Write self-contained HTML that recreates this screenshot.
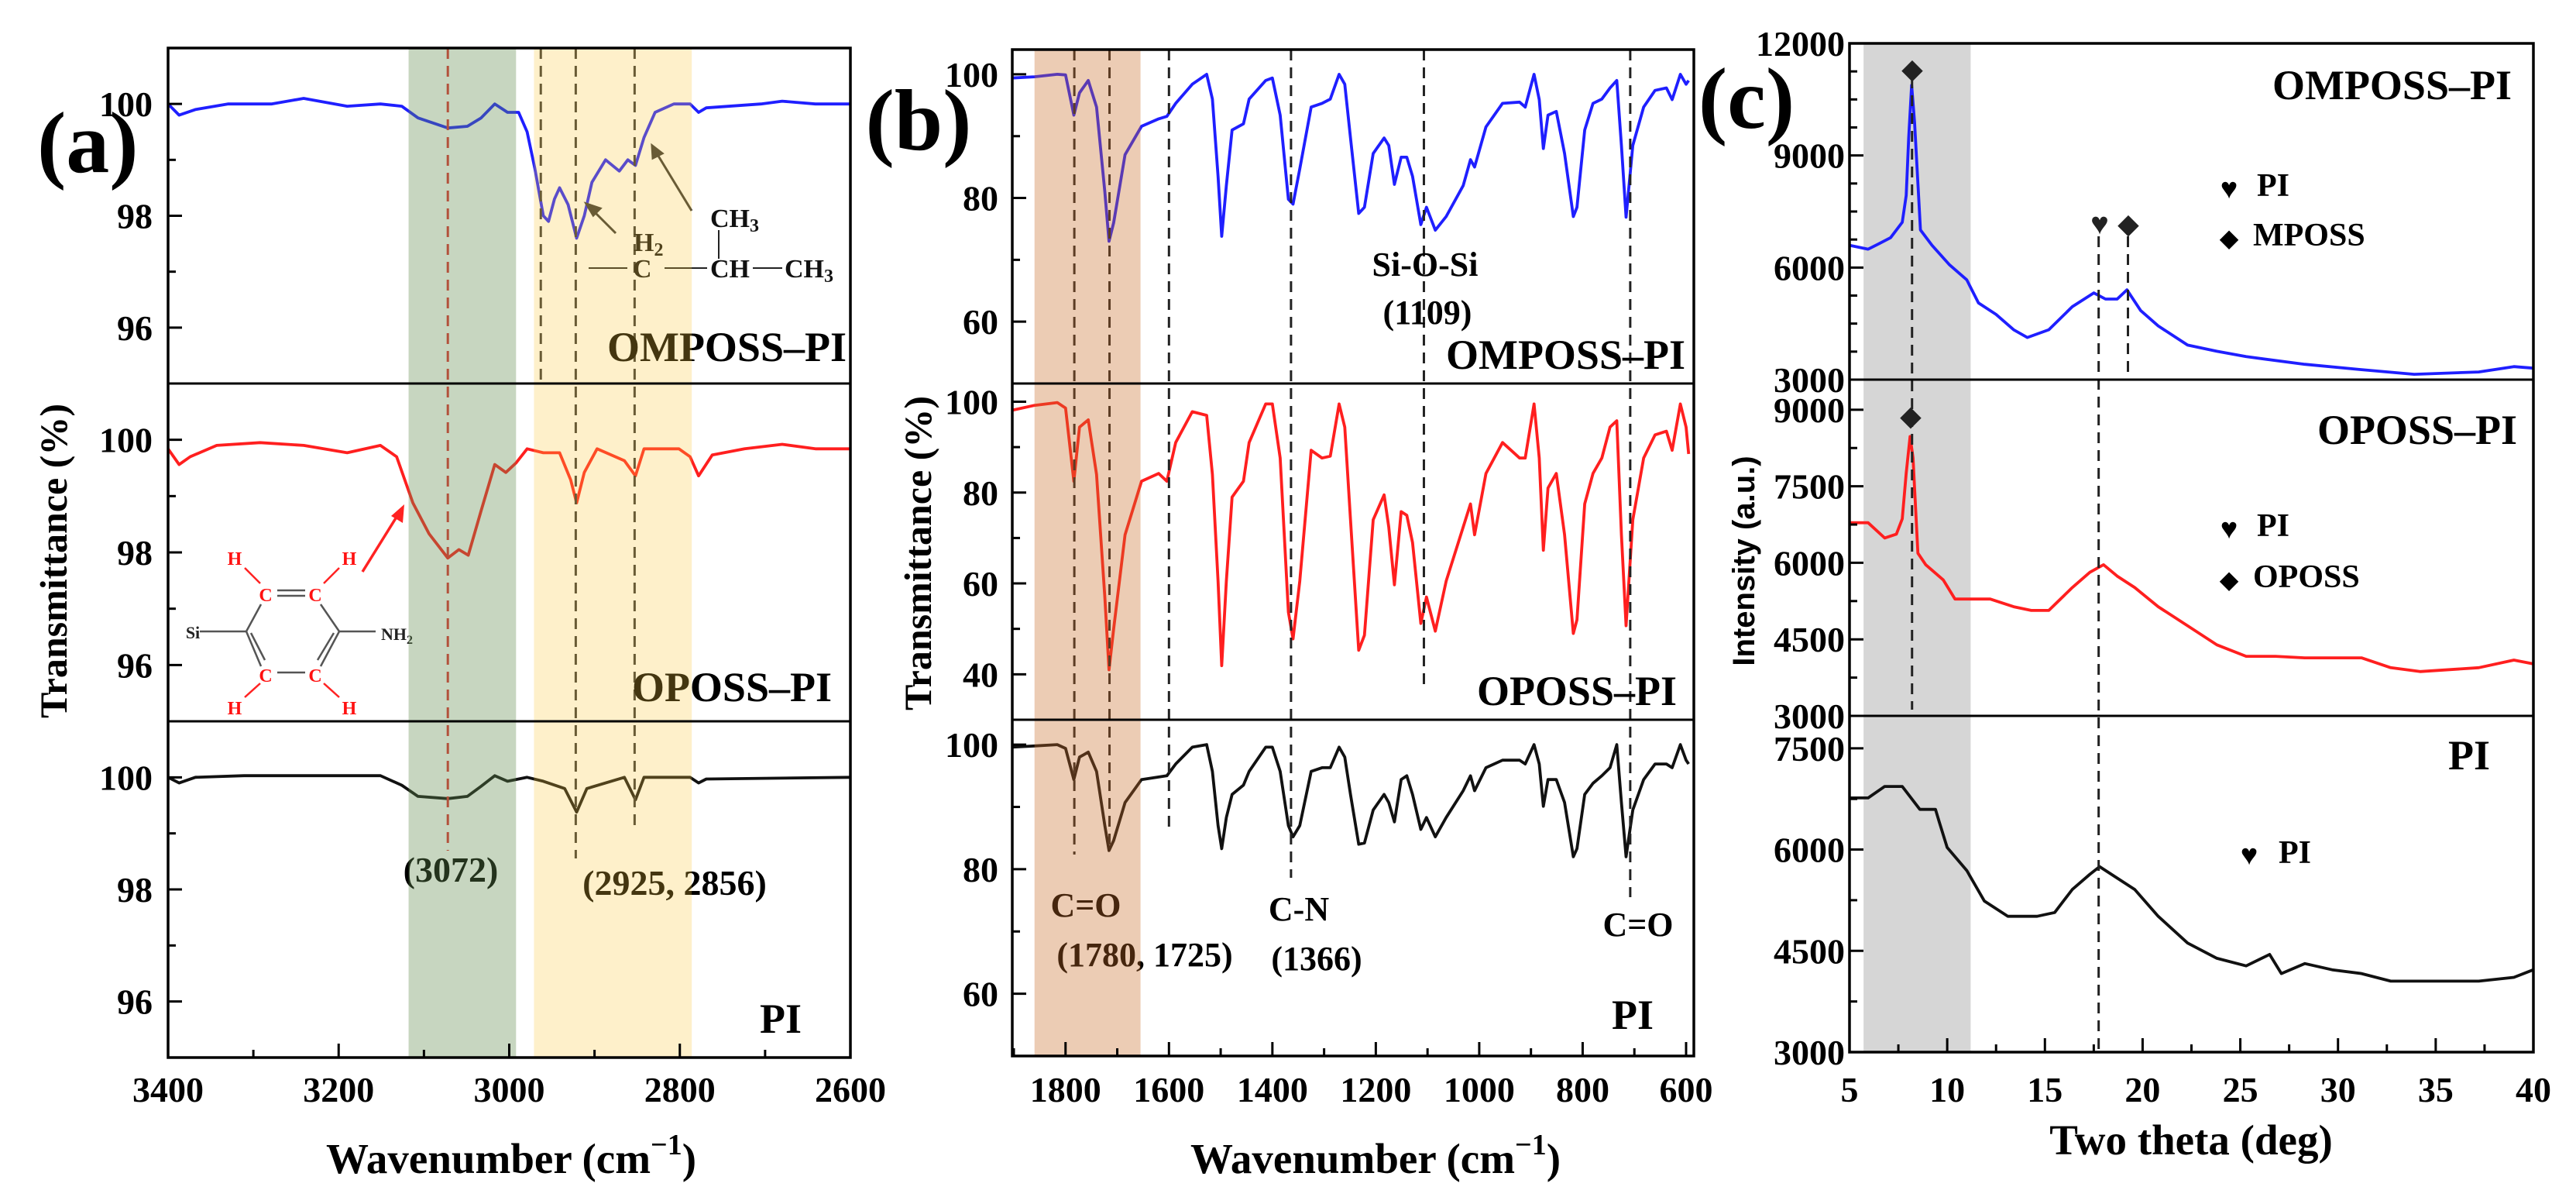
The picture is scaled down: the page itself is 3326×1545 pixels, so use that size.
<!DOCTYPE html>
<html><head><meta charset="utf-8"><style>
html,body{margin:0;padding:0;background:#fff;}
svg{display:block;}
text{font-family:"Liberation Serif","DejaVu Serif",serif;font-weight:bold;}
</style></head><body>
<svg id="fig" width="3326" height="1545" viewBox="0 0 3326 1545" xmlns="http://www.w3.org/2000/svg">
<g id="under"></g>
<g id="marks"></g>
<g id="annot">
 <text x="48" y="222" font-size="112">(a)</text>
 <text x="1093" y="466" font-size="54" text-anchor="end">OMPOSS–PI</text>
 <text x="1074" y="905" font-size="54" text-anchor="end">OPOSS–PI</text>
 <text x="1035" y="1333" font-size="54" text-anchor="end">PI</text>
 <text x="582" y="1138" font-size="46" text-anchor="middle">(3072)</text>
 <text x="871" y="1155" font-size="46" text-anchor="middle">(2925, 2856)</text>
 <g font-size="34" fill="#111">
  <text x="818" y="324">H<tspan font-size="24" dy="6">2</tspan></text>
  <text x="817" y="358">C</text>
  <text x="917" y="293">CH<tspan font-size="24" dy="6">3</tspan></text>
  <text x="917" y="358">CH</text>
  <text x="1013" y="358">CH<tspan font-size="24" dy="6">3</tspan></text>
  <line x1="760" y1="346" x2="810" y2="346" stroke="#222" stroke-width="2"/>
  <line x1="858" y1="346" x2="913" y2="346" stroke="#222" stroke-width="2"/>
  <line x1="972" y1="346" x2="1010" y2="346" stroke="#222" stroke-width="2"/>
  <line x1="928" y1="297" x2="928" y2="334" stroke="#222" stroke-width="2"/>
 </g>
 <g stroke="#333" stroke-width="3" fill="#333">
  <line x1="795" y1="301" x2="766" y2="272"/><polygon points="757,263 775,269 766,278"/>
  <line x1="893" y1="272" x2="848" y2="198"/><polygon points="842,188 855,198 843,204"/>
 </g>
 <g>
  <g stroke="#555" stroke-width="2.5" fill="none">
   <line x1="258" y1="815" x2="318" y2="815"/><line x1="438" y1="815" x2="485" y2="815"/>
   <line x1="318" y1="815" x2="337" y2="780"/><line x1="318" y1="815" x2="337" y2="860"/><line x1="324" y1="817" x2="342" y2="852"/>
   <line x1="438" y1="815" x2="414" y2="780"/><line x1="438" y1="815" x2="414" y2="860"/><line x1="431" y1="817" x2="410" y2="852"/>
   <line x1="358" y1="762" x2="394" y2="762"/><line x1="358" y1="769" x2="394" y2="769"/>
   <line x1="358" y1="868" x2="394" y2="868"/>
  </g>
  <g stroke="#f22" stroke-width="2.5">
   <line x1="316" y1="733" x2="336" y2="753"/><line x1="438" y1="733" x2="418" y2="753"/>
   <line x1="316" y1="900" x2="336" y2="882"/><line x1="438" y1="900" x2="418" y2="882"/>
  </g>
  <g fill="#f11" font-size="24" text-anchor="middle">
   <text x="303" y="729">H</text><text x="451" y="729">H</text>
   <text x="343" y="776">C</text><text x="407" y="776">C</text>
   <text x="343" y="880">C</text><text x="407" y="880">C</text>
   <text x="303" y="922">H</text><text x="451" y="922">H</text>
  </g>
  <text x="249" y="824" font-size="22" fill="#222" text-anchor="middle">Si</text>
  <text x="492" y="826" font-size="22" fill="#222">NH<tspan font-size="16" dy="5">2</tspan></text>
 </g>
 <g>
  <line x1="468" y1="738" x2="514" y2="664" stroke="#f22" stroke-width="3.5"/>
  <polygon points="522,651 520,675 505,666" fill="#f22"/>
 </g>
 <text x="1186" y="193" font-size="112" text-anchor="middle">(b)</text>
 <text x="2176" y="476" font-size="54" text-anchor="end">OMPOSS–PI</text>
 <text x="2165" y="910" font-size="54" text-anchor="end">OPOSS–PI</text>
 <text x="2135" y="1328" font-size="54" text-anchor="end">PI</text>
 <text x="1840" y="356" font-size="44" text-anchor="middle">Si-O-Si</text>
 <text x="1843" y="418" font-size="44" text-anchor="middle">(1109)</text>
 <text x="1402" y="1183" font-size="44" text-anchor="middle">C=O</text>
 <text x="1478" y="1247" font-size="44" text-anchor="middle">(1780, 1725)</text>
 <text x="1677" y="1188" font-size="44" text-anchor="middle">C-N</text>
 <text x="1700" y="1252" font-size="44" text-anchor="middle">(1366)</text>
 <text x="2115" y="1208" font-size="44" text-anchor="middle">C=O</text>
 <text x="2255" y="165" font-size="112" text-anchor="middle">(c)</text>
 <text x="3243" y="128" font-size="54" text-anchor="end">OMPOSS–PI</text>
 <text x="3250" y="573" font-size="54" text-anchor="end">OPOSS–PI</text>
 <text x="3215" y="993" font-size="54" text-anchor="end">PI</text>
 <g font-size="42">
  <text x="2878" y="256" font-family="DejaVu Sans" font-size="38" text-anchor="middle">♥</text><text x="2914" y="253">PI</text>
  <text x="2878" y="318" font-family="DejaVu Sans" font-size="32" text-anchor="middle">◆</text><text x="2909" y="317">MPOSS</text>
 </g>
 <g font-size="42">
  <text x="2878" y="695" font-family="DejaVu Sans" font-size="38" text-anchor="middle">♥</text><text x="2914" y="692">PI</text>
  <text x="2878" y="759" font-family="DejaVu Sans" font-size="32" text-anchor="middle">◆</text><text x="2909" y="758">OPOSS</text>
 </g>
 <g font-size="42">
  <text x="2904" y="1116" font-family="DejaVu Sans" font-size="38" text-anchor="middle">♥</text><text x="2942" y="1114">PI</text>
 </g>
 <g font-family="DejaVu Sans" text-anchor="middle" fill="#222">
  <text x="2469" y="101" font-size="36">◆</text>
  <text x="2711" y="302" font-size="40">♥</text>
  <text x="2748" y="301" font-size="36">◆</text>
  <text x="2467" y="549" font-size="36">◆</text>
 </g>
 <text font-size="50" text-anchor="middle" transform="translate(86,724) rotate(-90)">Transmittance (%)</text>
 <text x="660" y="1514" font-size="55" text-anchor="middle">Wavenumber (cm<tspan font-size="38" dy="-24">−1</tspan><tspan dy="24">)</tspan></text>
 <text font-size="50" text-anchor="middle" transform="translate(1202,714) rotate(-90)">Transmittance (%)</text>
 <text x="1776" y="1514" font-size="55" text-anchor="middle">Wavenumber (cm<tspan font-size="38" dy="-24">−1</tspan><tspan dy="24">)</tspan></text>
 <text font-size="40" text-anchor="middle" style="font-family:'Liberation Sans',sans-serif" transform="translate(2265,724) rotate(-90)">Intensity (a.u.)</text>
 <text x="2829" y="1490" font-size="55" text-anchor="middle">Two theta (deg)</text>
</g>
<g id="over"></g>
<g id="axes"></g>
</svg>
<script>
const A_X_OMPOSS=[3400,3387,3368,3330,3279,3241,3190,3151,3126,3107,3072,3049,3033,3017,3002,2989,2979,2970,2960,2954,2947,2941,2931,2921,2912,2903,2887,2871,2861,2852,2842,2829,2807,2788,2778,2769,2705,2680,2641,2600];
const A_OMPOSS=[100,99.8,99.9,100,100,100.1,99.96,100,99.96,99.75,99.57,99.6,99.75,100,99.85,99.85,99.5,98.85,98.0,97.9,98.3,98.5,98.2,97.6,98.0,98.6,99.0,98.8,99.0,98.9,99.4,99.85,100,100,99.85,99.93,100,100.05,100,100];
const A_X_OPOSS=[3400,3387,3374,3343,3292,3241,3190,3151,3132,3113,3094,3072,3059,3048,3033,3017,3004,2992,2979,2960,2941,2928,2921,2912,2897,2865,2852,2842,2801,2788,2778,2762,2724,2680,2641,2600];
const A_OPOSS=[99.84,99.56,99.7,99.9,99.95,99.9,99.77,99.9,99.7,98.88,98.33,97.9,98.05,97.95,98.74,99.56,99.42,99.59,99.84,99.77,99.77,99.29,98.88,99.42,99.84,99.63,99.36,99.84,99.84,99.7,99.36,99.73,99.84,99.92,99.84,99.84];
const A_X_PI=[3400,3387,3368,3311,3241,3151,3126,3107,3072,3049,3033,3017,3002,2979,2960,2935,2921,2909,2865,2852,2842,2788,2778,2769,2600];
const A_PI=[100,99.9,100,100.03,100.03,100.03,99.86,99.66,99.62,99.66,99.84,100.03,99.93,100,99.93,99.8,99.38,99.8,100,99.6,100,100,99.9,99.97,100];
const A_XTICKS=[3400,3200,3000,2800,2600];
const A_YTICKS=[96,98,100];
const B_X=[1904,1860,1816,1800,1784,1773,1756,1740,1724,1716,1707,1685,1653,1620,1604,1587,1555,1527,1516,1505,1498,1489,1478,1456,1445,1413,1400,1385,1369,1360,1347,1325,1304,1288,1271,1260,1249,1233,1222,1205,1184,1175,1164,1151,1140,1129,1113,1102,1085,1064,1031,1017,1009,987,955,922,911,894,884,876,867,851,835,818,811,796,780,763,747,734,725,716,703,682,660,638,627,611,600,595];
const B_OMPOSS=[99.4,99.6,100,99.9,93.4,97,99,94.7,81,73,76,87,91.6,92.8,93.2,95.3,98.4,100,96,83.5,73.8,82,91,92,96,99,99.4,93.4,79.8,79,84.7,94.7,95.3,96,100,98.4,89.7,77.5,78.5,87.2,89.7,88.5,82.2,86.6,86.6,83.5,75.7,78.5,74.8,77,82,86.2,85,91.5,95.3,95.5,94.7,100,95.9,88,93.4,94,87.2,77,78.5,91,95.3,96,97.8,99,88.5,76.9,88.5,94.7,97.4,97.8,95.9,100,98.4,99];
const B_OPOSS=[98.1,99.2,99.8,98.6,82.5,94.4,96,84,57,41,50,70.7,82.5,84.2,82.5,91,97.8,97,84,60.5,41.9,60.5,79,82.5,91,99.5,99.5,87.6,53.7,47.8,60.5,89.3,87.6,88,99.5,94.4,74,45.3,48.6,74,79.5,72.4,59.7,75.8,75,69,51.2,57,49.5,60.5,72.4,77.5,70.7,84.2,91,87.6,87.6,99.5,87.6,67.3,81,84.2,70.7,49,52,77.5,84.2,87.6,94.4,95.8,70.7,50.7,74,87.6,92.7,93.5,89.3,99.5,94.4,88.5];
const B_PI=[99.6,99.8,100,99.4,94.4,98,98.8,95.7,87,83,84.6,90.7,94.4,94.8,95,96.9,99.6,100,95.7,87,83.3,88.3,92,93.5,95.7,99.6,99.6,95.7,87,85.2,87,95.7,96.3,96.3,99.6,98,92,84,84.2,89.5,92,90.7,87.6,94.4,95,92,86.4,88.3,85.2,88.3,92.6,95,92.6,96.3,97.5,97.5,96.9,100,96.9,90.1,94.4,94.4,90.7,82,83.3,92,93.8,95,96.3,100,90.7,82,89.5,94.4,96.9,96.9,96.3,100,97.5,96.9];
const B_XTICKS=[1800,1600,1400,1200,1000,800,600];
const B_YTICKS_TOP=[60,80,100];
const B_YTICKS_MID=[40,60,80,100];
const B_YTICKS_BOT=[60,80,100];
const C_X_OMPOSS=[5,5.95,6.5,7.1,7.7,7.9,8.03,8.18,8.33,8.63,9.22,10.1,11.0,11.6,12.5,13.4,14.1,15.2,16.4,17.5,18.1,18.7,19.2,19.9,20.8,22.3,23.8,25.3,28.3,31.2,33.9,37.2,39.0,40];
const C_OMPOSS=[6596,6493,6636,6800,7212,7931,9472,10880,9883,7006,6596,6081,5671,5054,4746,4335,4129,4335,4951,5321,5157,5157,5404,4849,4438,3924,3760,3616,3411,3267,3143,3205,3348,3307];
const C_X_OPOSS=[5,5.95,6.8,7.4,7.7,7.9,8.1,8.25,8.5,8.9,9.8,10.4,11.3,12.2,13.4,14.3,15.2,16.4,17.3,18.0,18.7,19.6,20.8,22.3,23.8,25.3,26.8,28.3,31.2,32.7,34.2,37.2,39.0,40];
const C_OPOSS=[6786,6786,6487,6562,6861,7758,8476,8057,6188,5963,5664,5290,5290,5290,5140,5066,5066,5514,5813,5963,5739,5514,5140,4766,4392,4168,4168,4138,4138,3944,3869,3944,4093,4019];
const C_X_PI=[5,5.95,6.8,7.7,8.6,9.4,9.6,10.0,11.0,11.9,13.1,14.6,15.5,16.4,17.3,17.8,18.7,19.6,20.8,22.3,23.8,25.3,26.5,27.1,28.3,29.7,31.2,32.7,34.2,37.2,39.0,40];
const C_PI=[6765,6765,6935,6935,6595,6595,6400,6030,5690,5238,5012,5012,5068,5408,5634,5747,5577,5408,5012,4616,4390,4277,4447,4164,4311,4220,4164,4051,4051,4051,4107,4220];
const C_XTICKS=[5,10,15,20,25,30,35,40];
const C_YTICKS_TOP=[3000,6000,9000,12000];
const C_YTICKS_MID=[3000,4500,6000,7500,9000];
const C_YTICKS_BOT=[3000,4500,6000,7500];

const NS='http://www.w3.org/2000/svg';
const G_UNDER=document.getElementById('under'),G_MARKS=document.getElementById('marks'),G_OVER=document.getElementById('over'),G_AXES=document.getElementById('axes');
function mk(tag,attrs,parent,name){const el=document.createElementNS(NS,tag);for(const k in attrs)el.setAttribute(k,attrs[k]);


parent.appendChild(el);return el;}
function scaleX(p,v){return p.L+(v-p.x0)/(p.x1-p.x0)*(p.R-p.L);}
function scaleY(s,v){return s.B-(v-s.y0)/(s.y1-s.y0)*(s.B-s.T);}

const PA={L:217,R:1098,x0:3400,x1:2600,subs:[{T:62,B:495,y0:95,y1:101},{T:495,B:931,y0:95,y1:101},{T:931,B:1365,y0:95,y1:101}]};
const PB={L:1307,R:2187,x0:1903,x1:585,subs:[{T:64,B:495,y0:50,y1:104},{T:495,B:929,y0:30,y1:104},{T:929,B:1363,y0:50,y1:104}]};
const PC={L:2388,R:3271,x0:5,x1:40,subs:[{T:56,B:490,y0:3000,y1:12000},{T:490,B:924,y0:3000,y1:9590},{T:924,B:1358,y0:3000,y1:7980}]};

function band(p,a,b,fill,op,parent,name){const x1=scaleX(p,a),x2=scaleX(p,b);
mk('rect',{x:Math.min(x1,x2),y:p.subs[0].T,width:Math.abs(x2-x1),height:p.subs[2].B-p.subs[0].T,fill:fill,'fill-opacity':op},parent,name);}
function curve(p,s,xs,ys,color,name){let d='';for(let i=0;i<xs.length;i++){d+=(i?'L':'M')+scaleX(p,xs[i]).toFixed(1)+' '+scaleY(s,ys[i]).toFixed(1);}
mk('path',{d:d,fill:'none',stroke:color,'stroke-width':3.8,'stroke-linejoin':'round'},G_MARKS,name);}
function dashed(p,v,y1,y2,color,name){const x=scaleX(p,v);mk('line',{x1:x,y1:y1,x2:x,y2:y2,stroke:color,'stroke-width':3,'stroke-dasharray':'14 9'},G_MARKS,name);}
function axes(p,xticks,xminorStep,ysets,yminorStep,labelGap,prefix){
 const s0=p.subs[0],s2=p.subs[2];
 mk('rect',{x:p.L,y:s0.T,width:p.R-p.L,height:s2.B-s0.T,fill:'none',stroke:'#000','stroke-width':3.5},G_AXES,prefix+'-frame');
 mk('line',{x1:p.L,y1:p.subs[1].T,x2:p.R,y2:p.subs[1].T,stroke:'#000','stroke-width':3},G_AXES,prefix+'-divider-1');
 mk('line',{x1:p.L,y1:p.subs[2].T,x2:p.R,y2:p.subs[2].T,stroke:'#000','stroke-width':3},G_AXES,prefix+'-divider-2');
 const lo=Math.min(p.x0,p.x1),hi=Math.max(p.x0,p.x1);
 for(let v=Math.ceil(lo/xminorStep)*xminorStep;v<=hi;v+=xminorStep){const x=scaleX(p,v);const major=xticks.indexOf(v)>=0;
  mk('line',{x1:x,y1:s2.B,x2:x,y2:s2.B-(major?18:10),stroke:'#000','stroke-width':3},G_AXES,prefix+'-x-tick');}
 xticks.forEach(v=>{const t=mk('text',{x:scaleX(p,v),y:1422,'font-size':46,'text-anchor':'middle'},G_AXES,prefix+'-x-tick-label');t.textContent=String(v);});
 ysets.forEach((ticks,i)=>{const s=p.subs[i];
  for(let v=s.y0-(s.y0%yminorStep);v<=s.y1;v+=yminorStep){if(v<s.y0)continue;const y=scaleY(s,v);const major=ticks.indexOf(v)>=0;
   if(y>s.B-2||y<s.T+2)continue;
   mk('line',{x1:p.L,y1:y,x2:p.L+(major?18:10),y2:y,stroke:'#000','stroke-width':3},G_AXES,prefix+'-y-tick');}
  ticks.forEach(v=>{const t=mk('text',{x:p.L-labelGap,y:scaleY(s,v)+16,'font-size':46,'text-anchor':'end'},G_AXES,prefix+'-y-tick-label');t.textContent=String(v);});
 });
}
curve(PA,PA.subs[0],A_X_OMPOSS,A_OMPOSS,'#1f1fff','a-omposs-pi-curve');
curve(PA,PA.subs[1],A_X_OPOSS,A_OPOSS,'#ff1f1f','a-oposs-pi-curve');
curve(PA,PA.subs[2],A_X_PI,A_PI,'#111','a-pi-curve');
dashed(PA,3072,62,1098,'#e03030','a-dash-3072');
dashed(PA,2963,62,495,'#333','a-dash-2963');
dashed(PA,2922,62,1108,'#333','a-dash-2925');
dashed(PA,2853,62,1074,'#333','a-dash-2856');
band(PA,3118,2992,'rgb(100,140,80)',0.36,G_OVER,'a-band-aromatic');
band(PA,2971,2786,'rgb(250,200,60)',0.27,G_OVER,'a-band-aliphatic');
axes(PA,A_XTICKS,100,[A_YTICKS,A_YTICKS,A_YTICKS],1,20,'a');
curve(PB,PB.subs[0],B_X,B_OMPOSS,'#1f1fff','b-omposs-pi-curve');
curve(PB,PB.subs[1],B_X,B_OPOSS,'#ff1f1f','b-oposs-pi-curve');
curve(PB,PB.subs[2],B_X,B_PI,'#111','b-pi-curve');
dashed(PB,1783,64,1103,'#222','b-dash-1780');
dashed(PB,1715,64,1099,'#222','b-dash-1725');
dashed(PB,1600,64,1069,'#222','b-dash-1600');
dashed(PB,1364,64,1133,'#222','b-dash-1366');
dashed(PB,1107,64,892,'#222','b-dash-1109');
dashed(PB,708,64,1158,'#222','b-dash-708');
band(PB,1860,1655,'rgb(200,110,40)',0.35,G_OVER,'b-band-carbonyl');
axes(PB,B_XTICKS,100,[B_YTICKS_TOP,B_YTICKS_MID,B_YTICKS_BOT],10,18,'b');
band(PC,5.72,11.2,'#d6d6d6',1,G_UNDER,'c-band-poss');
curve(PC,PC.subs[0],C_X_OMPOSS,C_OMPOSS,'#1f1fff','c-omposs-pi-curve');
curve(PC,PC.subs[1],C_X_OPOSS,C_OPOSS,'#ff1f1f','c-oposs-pi-curve');
curve(PC,PC.subs[2],C_X_PI,C_PI,'#111','c-pi-curve');
dashed(PC,8.2,100,916,'#222','c-dash-8');
dashed(PC,17.75,305,1358,'#222','c-dash-17');
dashed(PC,19.25,305,488,'#222','c-dash-19');
axes(PC,C_XTICKS,2.5,[C_YTICKS_TOP,C_YTICKS_MID,C_YTICKS_BOT],750,6,'c');
</script>
</body></html>
